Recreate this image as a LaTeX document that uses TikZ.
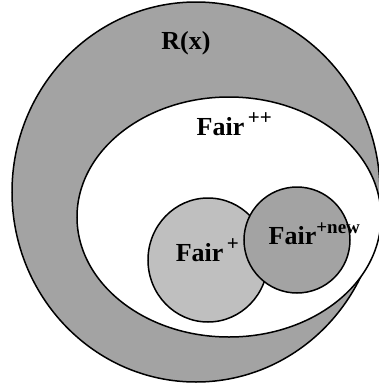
\documentclass[tikz,border=0pt]{standalone}
\usepackage{fontspec}
\setmainfont{Liberation Serif}
\usepackage{tikz}
\definecolor{ring}{gray}{0.64}
\definecolor{lightdot}{gray}{0.75}
\newcommand{\setname}[2]{\textbf{#1}\raisebox{0.9ex}{\fontsize{21}{21}\selectfont\,\textbf{#2}}}

\begin{document}
\begin{tikzpicture}[x=1pt, y=-1pt, line width=1.5pt,
    lbl/.style={font=\fontsize{26}{26}\selectfont\bfseries, inner sep=0pt}]
  \useasboundingbox (0,0) rectangle (379,384);
  \clip (0,0) rectangle (379,384);
  % outer set and the white region inside
  \draw[fill=ring] (196,192) ellipse (184 and 190);
  \draw[fill=white] (229,217) ellipse (152 and 120);
  % the two small sets
  \draw[fill=lightdot] (208,260) ellipse (60 and 62);
  \draw[fill=ring] (297,240) ellipse (53 and 53);
  \node[lbl] (rx) at (186,43) {R(x)};
  \node[lbl, anchor=base west] (fpp) at (196,135) {\setname{Fair}{++}};
  \node[lbl, anchor=base west] (fp) at (175,261) {\setname{Fair}{+}};
  \node[lbl, anchor=base west] (fnew) at (268,244) {Fair\raisebox{0.9ex}{\fontsize{19}{19}\selectfont\textbf{+new}}};
\end{tikzpicture}
\end{document}
